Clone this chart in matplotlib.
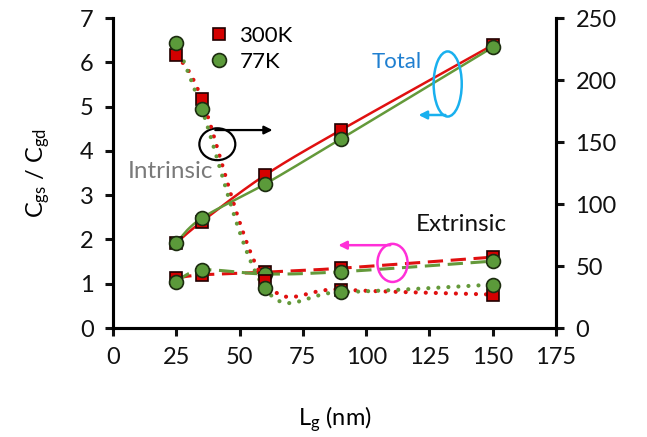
import numpy as np
import matplotlib
matplotlib.use("Agg")
import matplotlib.pyplot as plt
from matplotlib.patches import Ellipse
from matplotlib.lines import Line2D

plt.rcParams['font.family'] = ['Lato', 'DejaVu Sans']
plt.rcParams['mathtext.fontset'] = 'custom'
plt.rcParams['mathtext.rm'] = 'Lato'
plt.rcParams['mathtext.it'] = 'Lato:italic'

# gate length (nm)
lg = [25, 35, 60, 90, 150]

# total Cgs/Cgd (left axis)
total_300k = [1.92, 2.40, 3.45, 4.47, 6.39]
total_77k = [1.93, 2.48, 3.25, 4.27, 6.34]

# extrinsic Cgs/Cgd (left axis)
extr_300k = [1.13, 1.20, 1.26, 1.35, 1.60]
extr_77k = [1.04, 1.31, 1.22, 1.27, 1.51]

# intrinsic Cgs/Cgd (right axis)
intr_300k = [220, 185, 38, 31, 27]
intr_77k = [230, 177, 32, 29, 35]

RED = '#d40000'
RED_LINE = '#e01010'
GREEN = '#5b9a3a'
GREEN_LINE = '#64993a'


def smooth(x, y, n=40):
    # Bezier smoothing through the points, like a spreadsheet "smoothed line"
    p = np.column_stack([x, y]).astype(float)
    p = np.vstack([p[0], p, p[-1]])
    out = []
    for i in range(1, len(p) - 2):
        p0, p1 = p[i], p[i + 1]
        c1 = p0 + (p[i + 1] - p[i - 1]) / 6
        c2 = p1 - (p[i + 2] - p[i]) / 6
        t = np.linspace(0, 1, n)[:, None]
        seg = ((1 - t) ** 3) * p0 + 3 * ((1 - t) ** 2) * t * c1 \
            + 3 * (1 - t) * t ** 2 * c2 + t ** 3 * p1
        out.append(seg if i == 1 else seg[1:])
    s = np.vstack(out)
    return s[:, 0], s[:, 1]


fig = plt.figure(figsize=(6.47, 4.37), dpi=100)
ax = fig.add_axes([0.1747, 0.2494, 0.6847, 0.7094])
ax2 = ax.twinx()

sq = dict(marker='s', ms=9, mfc=RED, mec='#200000', mew=1.2, ls='none')
ci = dict(marker='o', ms=10, mfc=GREEN, mec='#1c2c10', mew=1.2, ls='none')

# total
ax.plot(*smooth(lg, total_300k), color=RED_LINE, lw=1.8, zorder=2)
ax.plot(*smooth(lg, total_77k), color=GREEN_LINE, lw=1.8, zorder=2)
ax.plot(lg, total_300k, zorder=3, **sq)
ax.plot(lg, total_77k, zorder=4, **ci)

# extrinsic
ax.plot(*smooth(lg, extr_300k), color=RED_LINE, lw=2.2, ls=(0, (5, 2.5)), zorder=2)
ax.plot(*smooth(lg, extr_77k), color=GREEN_LINE, lw=2.2, ls=(0, (5, 2.5)), zorder=2)
ax.plot(lg, extr_300k, zorder=3, **sq)
ax.plot(lg, extr_77k, zorder=4, **ci)

# intrinsic on the right axis
dots = dict(lw=3.0, ls=(0, (0.01, 2.4)), dash_capstyle='round')
ax2.plot(*smooth(lg, intr_300k), color=RED_LINE, zorder=2, **dots)
ax2.plot(*smooth(lg, intr_77k), color=GREEN_LINE, zorder=2, **dots)
ax2.plot(lg, intr_300k, zorder=3, **sq)
ax2.plot(lg, intr_77k, zorder=4, **ci)

ax.set_xlim(0, 175)
ax.set_ylim(0, 7)
ax2.set_ylim(0, 250)
ax.set_xticks(np.arange(0, 176, 25))
ax.set_yticks(np.arange(0, 8, 1))
ax2.set_yticks(np.arange(0, 251, 50))

for a in (ax, ax2):
    for side in ('left', 'right', 'bottom'):
        a.spines[side].set_linewidth(2.2)
    a.spines['top'].set_visible(False)
    a.tick_params(width=2.2, length=6, labelsize=17, colors='#111111', pad=8)

ax.set_xlabel(r'L$_{\mathrm{g}}$ (nm)', fontsize=17, labelpad=26)
ax.set_ylabel(r'C$_{\mathrm{gs}}$ / C$_{\mathrm{gd}}$', fontsize=17, labelpad=20)

# legend
handles = [Line2D([], [], **sq), Line2D([], [], **ci)]
ax.legend(handles, ['300K', '77K'], loc='upper left', bbox_to_anchor=(0.165, 1.04),
          frameon=False, fontsize=16, handletextpad=0.3, labelspacing=0.3,
          handlelength=1.2)

# annotations
ax.add_patch(Ellipse((132.2, 5.51), 11.1, 1.47, fill=False, ec='#19b0ee', lw=1.8, zorder=5))
ax.annotate('', xy=(119.6, 4.81), xytext=(132.4, 4.81),
            arrowprops=dict(arrowstyle='-|>', color='#19b0ee', lw=1.8, mutation_scale=12))
ax.text(112.2, 6.0, 'Total', color='#1f7fd0', fontsize=16, ha='center', va='center')

ax.add_patch(Ellipse((41.2, 4.15), 14.2, 0.72, fill=False, ec='black', lw=1.6, zorder=5))
ax.annotate('', xy=(64.1, 4.47), xytext=(39.3, 4.47),
            arrowprops=dict(arrowstyle='-|>', color='black', lw=1.6, mutation_scale=12))
ax.text(22.8, 3.54, 'Intrinsic', color='#7a7a7a', fontsize=17.5, ha='center', va='center')

ax.add_patch(Ellipse((110.4, 1.47), 11.9, 0.86, fill=False, ec='#ff2fd8', lw=1.8, zorder=5))
ax.annotate('', xy=(87.9, 1.87), xytext=(110.6, 1.87),
            arrowprops=dict(arrowstyle='-|>', color='#ff2fd8', lw=1.8, mutation_scale=12))
ax.text(137.4, 2.33, 'Extrinsic', color='#111111', fontsize=17.5, ha='center', va='center')

fig.savefig('out.png', dpi=100)
